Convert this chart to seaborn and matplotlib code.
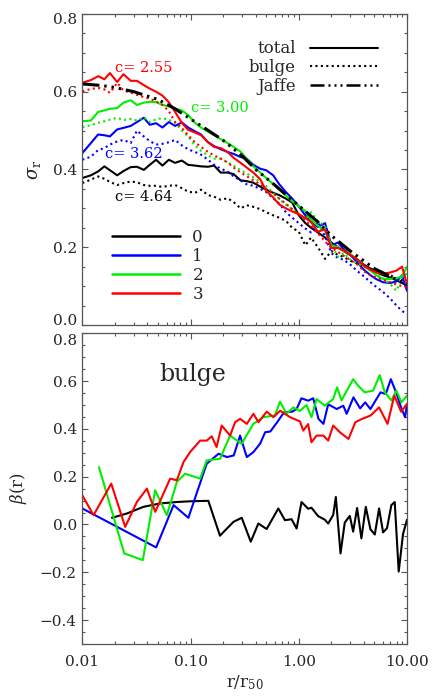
import numpy as np
import pandas as pd
import matplotlib
matplotlib.use("Agg")
import matplotlib.pyplot as plt
from matplotlib.lines import Line2D
from matplotlib.ticker import MultipleLocator, NullFormatter
from matplotlib.transforms import ScaledTranslation
import seaborn as sns

# ---- top panel: sigma_r profiles, common radial grid ----
r_top = [0.010, 0.012, 0.014, 0.016, 0.018, 0.021, 0.024, 0.028, 0.032, 0.037,
         0.042, 0.048, 0.055, 0.063, 0.072, 0.083, 0.095, 0.11, 0.125, 0.145,
         0.165, 0.19, 0.22, 0.25, 0.29, 0.33, 0.38, 0.44, 0.50, 0.58,
         0.66, 0.76, 0.87, 1.0, 1.15, 1.3, 1.5, 1.75, 2.0, 2.3,
         2.6, 3.0, 3.5, 4.0, 4.6, 5.2, 6.0, 7.0, 8.0, 9.0, 10.0]

sig_total_0 = [0.378, 0.385, 0.395, 0.408, 0.398, 0.385, 0.396, 0.406, 0.407, 0.399,
               0.412, 0.425, 0.410, 0.425, 0.417, 0.423, 0.412, 0.410, 0.408, 0.407,
               0.410, 0.392, 0.392, 0.388, 0.372, 0.370, 0.366, 0.356, 0.348, 0.340,
               0.334, 0.325, 0.315, 0.282, 0.262, 0.250, 0.238, 0.225, 0.212, 0.200,
               0.190, 0.180, 0.168, 0.155, 0.145, 0.136, 0.128, 0.122, 0.115, 0.108, 0.102]
sig_total_1 = [0.442, 0.468, 0.490, 0.488, 0.485, 0.503, 0.507, 0.512, 0.522, 0.533,
               0.515, 0.519, 0.508, 0.522, 0.512, 0.521, 0.508, 0.498, 0.490, 0.470,
               0.460, 0.452, 0.445, 0.440, 0.432, 0.428, 0.412, 0.402, 0.398, 0.385,
               0.362, 0.342, 0.325, 0.305, 0.282, 0.265, 0.252, 0.262, 0.205, 0.212,
               0.195, 0.180, 0.160, 0.142, 0.128, 0.118, 0.110, 0.108, 0.112, 0.128, 0.088]
sig_total_2 = [0.524, 0.526, 0.548, 0.552, 0.556, 0.558, 0.572, 0.578, 0.566, 0.572,
               0.574, 0.573, 0.566, 0.562, 0.557, 0.552, 0.540, 0.520, 0.508, 0.497,
               0.488, 0.478, 0.468, 0.458, 0.446, 0.428, 0.408, 0.392, 0.378, 0.362,
               0.348, 0.333, 0.318, 0.305, 0.293, 0.270, 0.255, 0.242, 0.205, 0.200,
               0.190, 0.182, 0.168, 0.152, 0.140, 0.128, 0.118, 0.118, 0.120, 0.125, 0.150]
sig_total_3 = [0.623, 0.630, 0.640, 0.632, 0.648, 0.625, 0.645, 0.628, 0.628, 0.617,
               0.608, 0.600, 0.590, 0.573, 0.548, 0.520, 0.502, 0.495, 0.488, 0.470,
               0.458, 0.455, 0.445, 0.430, 0.417, 0.405, 0.392, 0.375, 0.345, 0.328,
               0.310, 0.300, 0.292, 0.285, 0.275, 0.265, 0.240, 0.246, 0.198, 0.198,
               0.192, 0.180, 0.168, 0.152, 0.142, 0.135, 0.132, 0.135, 0.140, 0.150, 0.105]

sig_bulge_0 = [0.365, 0.374, 0.382, 0.376, 0.368, 0.360, 0.365, 0.369, 0.367, 0.360,
               0.358, 0.358, 0.355, 0.358, 0.360, 0.352, 0.343, 0.340, 0.348, 0.334,
               0.330, 0.322, 0.326, 0.316, 0.300, 0.308, 0.304, 0.298, 0.290, 0.282,
               0.276, 0.268, 0.250, 0.240, 0.205, 0.225, 0.200, 0.170, 0.190, 0.180,
               0.175, 0.165, 0.158, 0.150, 0.145, 0.140, 0.135, 0.128, 0.120, 0.115, 0.112]
sig_bulge_1 = [0.425, 0.433, 0.450, 0.455, 0.464, 0.472, 0.476, 0.468, 0.500, 0.485,
               0.473, 0.464, 0.466, 0.470, 0.476, 0.462, 0.452, 0.445, 0.438, 0.425,
               0.412, 0.402, 0.395, 0.382, 0.372, 0.362, 0.358, 0.350, 0.342, 0.326,
               0.312, 0.290, 0.276, 0.262, 0.248, 0.238, 0.265, 0.228, 0.185, 0.172,
               0.168, 0.155, 0.138, 0.125, 0.110, 0.098, 0.085, 0.068, 0.050, 0.036, 0.028]
sig_bulge_2 = [0.509, 0.514, 0.520, 0.524, 0.528, 0.533, 0.527, 0.530, 0.526, 0.534,
               0.522, 0.529, 0.532, 0.528, 0.520, 0.500, 0.485, 0.462, 0.448, 0.436,
               0.428, 0.428, 0.418, 0.410, 0.398, 0.390, 0.380, 0.368, 0.357, 0.340,
               0.324, 0.310, 0.298, 0.285, 0.272, 0.290, 0.268, 0.255, 0.205, 0.175,
               0.185, 0.168, 0.158, 0.150, 0.140, 0.130, 0.120, 0.105, 0.088, 0.125, 0.132]
sig_bulge_3 = [0.601, 0.607, 0.610, 0.606, 0.597, 0.623, 0.603, 0.598, 0.592, 0.586,
               0.582, 0.575, 0.566, 0.550, 0.522, 0.507, 0.488, 0.470, 0.458, 0.445,
               0.436, 0.428, 0.418, 0.405, 0.392, 0.383, 0.372, 0.362, 0.350, 0.338,
               0.325, 0.312, 0.298, 0.285, 0.268, 0.255, 0.236, 0.215, 0.198, 0.188,
               0.178, 0.167, 0.155, 0.138, 0.128, 0.122, 0.116, 0.110, 0.104, 0.100, 0.098]

r_jaffe = [0.010, 0.015, 0.02, 0.03, 0.05, 0.07, 0.1, 0.15, 0.2, 0.3,
           0.4, 0.6, 0.8, 1.0, 1.5, 2.0, 3.0, 5.0, 7.0, 10.0]
sig_jaffe = [0.620, 0.616, 0.611, 0.600, 0.580, 0.558, 0.530, 0.498, 0.475, 0.435,
             0.400, 0.360, 0.330, 0.307, 0.265, 0.230, 0.190, 0.145, 0.125, 0.103]

# ---- bottom panel: anisotropy beta(r) of the bulge ----
r_beta_0 = [0.0188, 0.0258, 0.0368, 0.0524, 0.0747, 0.099, 0.146, 0.187, 0.249, 0.297,
            0.36, 0.423, 0.505, 0.647, 0.745, 0.858, 0.955, 1.06, 1.22, 1.31,
            1.51, 1.74, 1.87, 2.08, 2.20, 2.43, 2.66, 2.96, 3.18, 3.46,
            3.79, 4.16, 4.59, 5.04, 5.52, 6.01, 6.54, 7.17, 7.70, 8.38, 9.19, 10.0]
beta_0 = [0.028, 0.046, 0.074, 0.088, 0.094, 0.097, 0.099, -0.047, 0.011, 0.028,
          -0.072, 0.004, -0.019, 0.067, 0.018, 0.022, -0.017, 0.094, 0.066, 0.070,
          0.035, 0.020, 0.004, 0.040, 0.115, -0.121, 0.008, 0.036, -0.030, 0.069,
          -0.058, 0.074, -0.020, -0.042, 0.067, -0.033, -0.015, 0.081, 0.094, -0.197, -0.040, 0.020]

r_beta_1 = [0.010, 0.0481, 0.0697, 0.0955, 0.1409, 0.1814, 0.2172, 0.2508, 0.2867, 0.331,
            0.381, 0.439, 0.489, 0.546, 0.632, 0.729, 0.867, 0.955, 1.058, 1.22,
            1.36, 1.52, 1.69, 1.87, 2.24, 2.58, 2.77, 3.20, 3.69, 4.11,
            4.59, 5.11, 5.70, 6.36, 7.09, 7.92, 8.82, 9.6, 10.0]
beta_1 = [0.067, -0.096, 0.081, 0.028, 0.254, 0.296, 0.282, 0.289, 0.372, 0.282,
          0.303, 0.338, 0.386, 0.389, 0.428, 0.469, 0.472, 0.483, 0.528, 0.518,
          0.528, 0.442, 0.421, 0.503, 0.483, 0.497, 0.463, 0.532, 0.486, 0.511,
          0.483, 0.518, 0.553, 0.546, 0.608, 0.553, 0.490, 0.449, 0.504]

r_beta_2 = [0.01425, 0.0244, 0.0362, 0.0471, 0.0604, 0.0747, 0.0891, 0.1226, 0.141, 0.1874,
            0.2317, 0.2967, 0.380, 0.470, 0.602, 0.670, 0.772, 0.889, 1.024, 1.18,
            1.31, 1.46, 1.74, 2.08, 2.26, 2.48, 3.18, 3.53, 4.07, 4.86,
            5.60, 6.23, 7.17, 7.98, 8.88, 10.0]
beta_2 = [0.240, -0.121, -0.149, 0.143, 0.039, 0.178, 0.2125, 0.192, 0.268, 0.275,
          0.372, 0.3375, 0.421, 0.449, 0.456, 0.514, 0.463, 0.490, 0.475, 0.500,
          0.449, 0.525, 0.497, 0.525, 0.574, 0.519, 0.608, 0.581, 0.553, 0.560,
          0.625, 0.553, 0.519, 0.560, 0.511, 0.539]

r_beta_3 = [0.010, 0.0127, 0.0185, 0.0249, 0.0319, 0.0395, 0.0472, 0.0648, 0.0747, 0.0860,
            0.099, 0.1226, 0.141, 0.157, 0.174, 0.194, 0.232, 0.258, 0.2867, 0.331,
            0.381, 0.424, 0.505, 0.583, 0.672, 0.831, 1.026, 1.10, 1.22, 1.31,
            1.46, 1.69, 1.87, 2.08, 2.41, 2.88, 3.33, 3.85, 4.61, 5.52,
            6.61, 7.63, 8.82, 10.0]
beta_3 = [0.122, 0.039, 0.171, -0.010, 0.094, 0.150, 0.053, 0.192, 0.185, 0.261,
          0.303, 0.351, 0.351, 0.369, 0.324, 0.414, 0.372, 0.428, 0.442, 0.421,
          0.463, 0.428, 0.472, 0.449, 0.476, 0.449, 0.431, 0.393, 0.420, 0.344,
          0.372, 0.372, 0.351, 0.414, 0.385, 0.358, 0.428, 0.442, 0.456, 0.490,
          0.421, 0.539, 0.472, 0.504]

models = ['0', '1', '2', '3']
colors = ['black', 'blue', '#00ee00', 'red']
conc_labels = ['c= 4.64', 'c= 3.62', 'c= 3.00', 'c= 2.55']
conc_pos = [(0.020, 0.329), (0.0162, 0.441), (0.1005, 0.559), (0.020, 0.660)]

sns.set_style("ticks")
plt.rcParams['font.family'] = ['DejaVu Serif']
plt.rcParams['mathtext.fontset'] = 'dejavuserif'

DOT = (0, (1, 1.6))
JAFFE = (0, (5.6, 1.6, 0.8, 1.6, 0.8, 1.6, 0.8, 1.6))
AXC = '#555555'

fig = plt.figure(figsize=(4.36, 6.98), dpi=100)
ax1 = fig.add_axes([0.1888, 0.5344, 0.7447, 0.4456])
ax2 = fig.add_axes([0.1888, 0.0774, 0.7447, 0.4451])

totals = [sig_total_0, sig_total_1, sig_total_2, sig_total_3]
bulges = [sig_bulge_0, sig_bulge_1, sig_bulge_2, sig_bulge_3]

for tot, bul, col in zip(totals, bulges, colors):
    df = pd.DataFrame({'r': r_top, 'total': tot, 'bulge': bul})
    sns.lineplot(data=df, x='r', y='bulge', ax=ax1, color=col, lw=1.5,
                 linestyle=DOT, legend=False)
    sns.lineplot(data=df, x='r', y='total', ax=ax1, color=col, lw=1.5, legend=False)

sns.lineplot(x=r_jaffe, y=sig_jaffe, ax=ax1, color='black', lw=2.2,
             linestyle=JAFFE, legend=False)

for txt, (xp, yp), col in zip(conc_labels, conc_pos, colors):
    ax1.text(xp, yp, txt, color=col, fontsize=10.5, ha='left', va='center')

beta_r = [r_beta_0, r_beta_1, r_beta_2, r_beta_3]
beta_v = [beta_0, beta_1, beta_2, beta_3]
for rr, bb, col in zip(beta_r, beta_v, colors):
    sns.lineplot(x=rr, y=bb, ax=ax2, color=col, lw=1.5, legend=False)

ax2.text(0.105, 0.626, 'bulge', fontsize=17, ha='center', va='center')

# legends
h_kind = [Line2D([], [], color='black', lw=1.5),
          Line2D([], [], color='black', lw=1.5, linestyle=DOT),
          Line2D([], [], color='black', lw=1.8, linestyle=JAFFE)]
leg1 = ax1.legend(h_kind, ['total', 'bulge', 'Jaffe'], loc='upper right',
                  bbox_to_anchor=(0.911, 0.915), frameon=False, markerfirst=False,
                  fontsize=12, handlelength=4.1, handletextpad=0.85,
                  labelspacing=0.1, borderpad=0, borderaxespad=0)
ax1.add_artist(leg1)
h_mod = [Line2D([], [], color=c, lw=1.8) for c in colors]
ax1.legend(h_mod, models, loc='upper left', bbox_to_anchor=(0.0915, 0.31),
           frameon=False, fontsize=12, handlelength=4.1, handletextpad=0.72,
           labelspacing=0.12, borderpad=0, borderaxespad=0)

for ax in (ax1, ax2):
    ax.set_xscale('log')
    ax.set_xlim(0.01, 10)
    ax.xaxis.set_minor_formatter(NullFormatter())
    ax.yaxis.set_minor_locator(MultipleLocator(0.05))
    ax.tick_params(which='both', direction='in', top=True, right=True,
                   color=AXC, width=0.8, labelsize=11, pad=4)
    ax.tick_params(which='major', length=4)
    ax.tick_params(which='minor', length=2.2)
    for sp in ax.spines.values():
        sp.set_color(AXC)
        sp.set_linewidth(0.9)

ax1.set_ylim(0, 0.8)
ax1.set_yticks([0.0, 0.2, 0.4, 0.6, 0.8])
ax1.set_xticks([0.01, 0.1, 1, 10])
ax1.set_xticklabels([])
ax1.set_xlabel('')
ax1.set_ylabel(r'$\sigma_{\rm r}$', fontsize=13)
ax1.yaxis.set_label_coords(-0.12, 0.5)

ax2.set_ylim(-0.5, 0.8)
ax2.set_yticks([-0.4, -0.2, 0.0, 0.2, 0.4, 0.6, 0.8])
ax2.set_xticks([0.01, 0.1, 1, 10], ['0.01', '0.10', '1.00', '10.00'])
ax2.tick_params(axis='x', which='major', pad=8)
ax2.set_xlabel(r'r/r$_{50}$', fontsize=12)
ax2.xaxis.set_label_coords(0.5, -0.095)
ax2.set_ylabel(r'$\beta$(r)', fontsize=12)
ax2.yaxis.set_label_coords(-0.165, 0.5)


def shift_label(lab, dy_px):
    lab.set_transform(lab.get_transform() +
                      ScaledTranslation(0, dy_px / fig.dpi, fig.dpi_scale_trans))


# keep the edge labels of the two panels apart, as in the original
top_labels = ax1.get_yticklabels()
shift_label(top_labels[0], 5)
shift_label(top_labels[-1], -5)
shift_label(ax2.get_yticklabels()[-1], -6.5)

fig.savefig('out.png', dpi=100)
